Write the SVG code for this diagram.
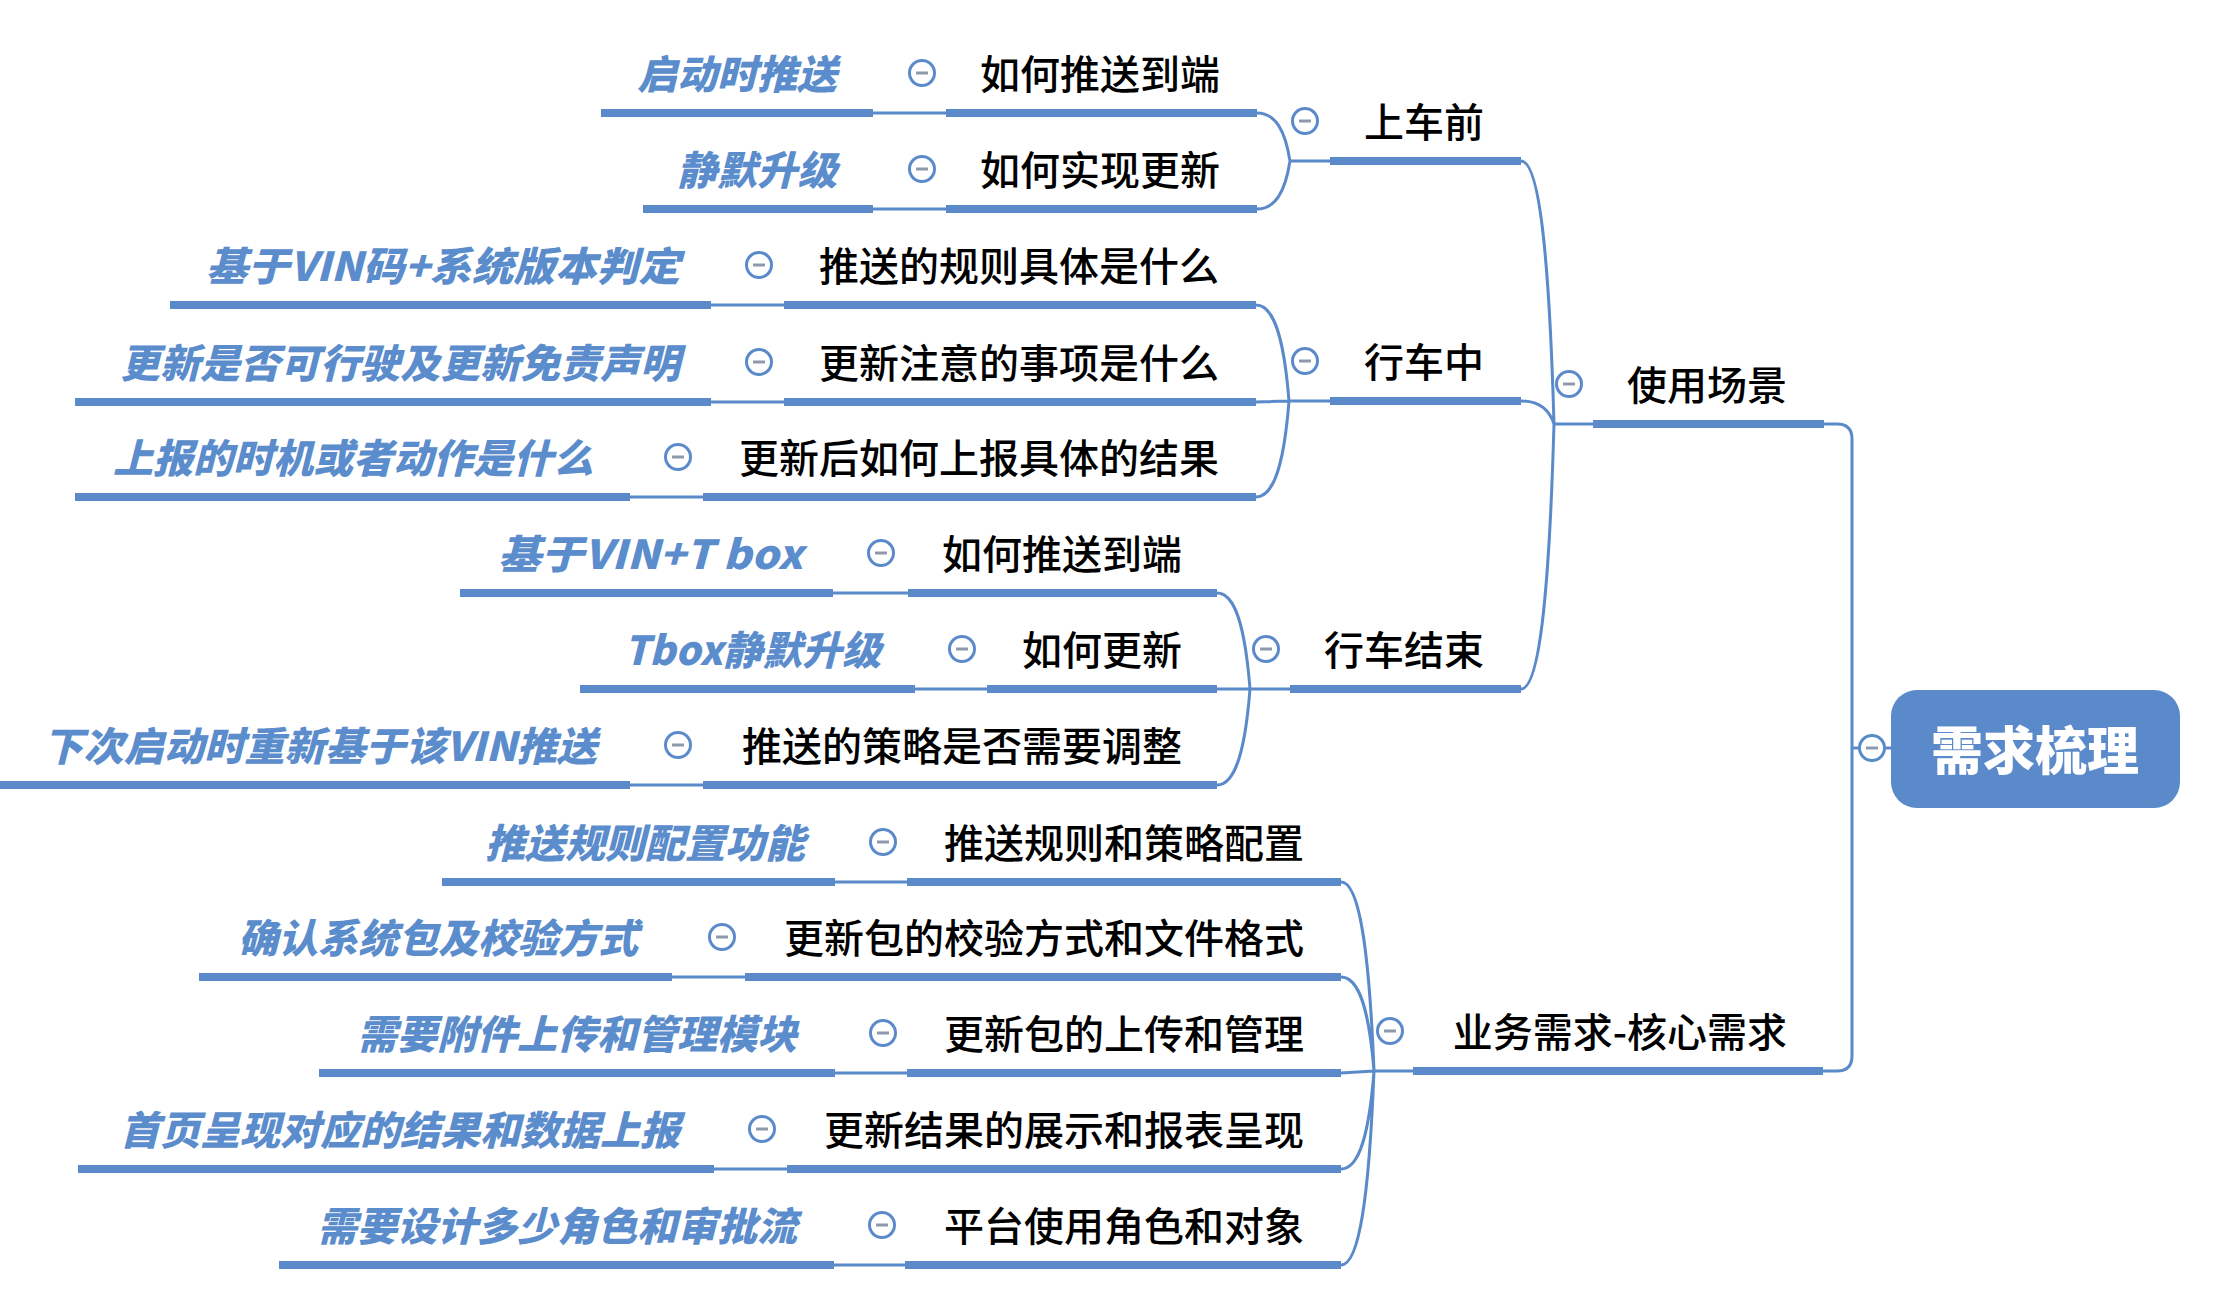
<svg xmlns="http://www.w3.org/2000/svg" xmlns:xlink="http://www.w3.org/1999/xlink" width="2231" height="1310" viewBox="0 0 2231 1310">
<style>
.ul{stroke:#5A8ACA;stroke-width:8;fill:none}
.ln{stroke:#5A8ACA;stroke-width:3;fill:none}
.bt{font-family:"Noto Sans CJK SC","Liberation Sans",sans-serif;font-size:40px;font-weight:500;fill:#000;text-anchor:end}
.it{font-family:"Noto Sans CJK SC","Liberation Sans",sans-serif;font-size:40px;font-weight:900;font-style:italic;fill:#5B8CCC;text-anchor:end}
.rt{font-family:"Noto Sans CJK SC","Liberation Sans",sans-serif;font-size:52px;font-weight:900;fill:#fff;text-anchor:middle}
.ic{fill:#fff;stroke:#5A8ACA;stroke-width:3}
.mi{stroke:#8E9AAB;stroke-width:3}
</style>
<defs>
<g id="col"><circle class="ic" cx="0" cy="0" r="12.5"/><line class="mi" x1="-6" y1="0" x2="6" y2="0"/></g>
</defs>
<rect width="2231" height="1310" fill="#fff"/>
<g id="connectors">
<path class="ln" d="M1824 424 H1837 Q1852 424 1852 439 V1056 Q1852 1071 1837 1071 H1823 M1852 748 H1891"/>
<path class="ln" d="M1521 161 C1539.2 161 1549.1 253.1 1554 424 M1521 401 C1539.2 401 1549.1 409 1554 424 M1521 689 C1539.2 689 1549.1 596.3 1554 424 M1554 424 H1593"/>
<path class="ln" d="M1257 113 C1275.2 113 1285.1 129.8 1290 161 M1257 209 C1275.2 209 1285.1 192.2 1290 161 M1290 161 H1330"/>
<path class="ln" d="M1256 305 C1274.2 305 1284.1 338.6 1289 401 M1256 402 L1289 401 M1256 497 C1274.2 497 1284.1 463.4 1289 401 M1289 401 H1330"/>
<path class="ln" d="M1217 593 C1235.2 593 1245.1 626.6 1250 689 M1217 689 L1250 689 M1217 785 C1235.2 785 1245.1 751.4 1250 689 M1250 689 H1290"/>
<path class="ln" d="M1341 882 C1359.2 882 1369.1 948.2 1374 1071 M1341 977 C1359.2 977 1369.1 1009.9 1374 1071 M1341 1073 L1374 1071 M1341 1169 C1359.2 1169 1369.1 1134.7 1374 1071 M1341 1265 C1359.2 1265 1369.1 1197.1 1374 1071 M1374 1071 H1413"/>
<path class="ln" d="M873 113 H946 M873 209 H946 M711 305 H784 M711 402 H784 M630 497 H703 M833 593 H908 M915 689 H987 M630 785 H703 M835 882 H907 M672 977 H745 M835 1073 H907 M714 1169 H787 M834 1265 H905"/>
</g>
<g id="root">
<rect x="1891" y="690" width="289" height="118" rx="26" fill="#5A8ACA"/>
<text class="rt" x="2035" y="770">需求梳理</text>
<use xlink:href="#col" x="1872" y="748"/>
</g>
<g id="n_scene"><text class="bt" x="1787" y="400">使用场景</text><line class="ul" x1="1593" y1="424" x2="1824" y2="424"/><use xlink:href="#col" x="1569" y="384"/></g>
<g id="n_biz"><text class="bt" x="1787" y="1047">业务需求-核心需求</text><line class="ul" x1="1413" y1="1071" x2="1823" y2="1071"/><use xlink:href="#col" x="1390" y="1031"/></g>
<g id="n_before"><text class="bt" x="1484" y="137">上车前</text><line class="ul" x1="1330" y1="161" x2="1521" y2="161"/><use xlink:href="#col" x="1305" y="121"/></g>
<g id="n_during"><text class="bt" x="1484" y="377">行车中</text><line class="ul" x1="1330" y1="401" x2="1521" y2="401"/><use xlink:href="#col" x="1305" y="361"/></g>
<g id="n_after"><text class="bt" x="1484" y="665">行车结束</text><line class="ul" x1="1290" y1="689" x2="1521" y2="689"/><use xlink:href="#col" x="1266" y="649"/></g>
<g id="b1"><text class="bt" x="1220" y="89">如何推送到端</text><line class="ul" x1="946" y1="113" x2="1257" y2="113"/><use xlink:href="#col" x="922" y="73"/></g>
<g id="b2"><text class="bt" x="1220" y="185">如何实现更新</text><line class="ul" x1="946" y1="209" x2="1257" y2="209"/><use xlink:href="#col" x="922" y="169"/></g>
<g id="d1"><text class="bt" x="1219" y="281">推送的规则具体是什么</text><line class="ul" x1="784" y1="305" x2="1256" y2="305"/><use xlink:href="#col" x="759" y="265"/></g>
<g id="d2"><text class="bt" x="1219" y="378">更新注意的事项是什么</text><line class="ul" x1="784" y1="402" x2="1256" y2="402"/><use xlink:href="#col" x="759" y="362"/></g>
<g id="d3"><text class="bt" x="1219" y="473">更新后如何上报具体的结果</text><line class="ul" x1="703" y1="497" x2="1256" y2="497"/><use xlink:href="#col" x="678" y="457"/></g>
<g id="a1"><text class="bt" x="1182" y="569">如何推送到端</text><line class="ul" x1="908" y1="593" x2="1217" y2="593"/><use xlink:href="#col" x="881" y="553"/></g>
<g id="a2"><text class="bt" x="1182" y="665">如何更新</text><line class="ul" x1="987" y1="689" x2="1217" y2="689"/><use xlink:href="#col" x="962" y="649"/></g>
<g id="a3"><text class="bt" x="1182" y="761">推送的策略是否需要调整</text><line class="ul" x1="703" y1="785" x2="1217" y2="785"/><use xlink:href="#col" x="678" y="745"/></g>
<g id="z1"><text class="bt" x="1304" y="858">推送规则和策略配置</text><line class="ul" x1="907" y1="882" x2="1341" y2="882"/><use xlink:href="#col" x="883" y="842"/></g>
<g id="z2"><text class="bt" x="1304" y="953">更新包的校验方式和文件格式</text><line class="ul" x1="745" y1="977" x2="1341" y2="977"/><use xlink:href="#col" x="722" y="937"/></g>
<g id="z3"><text class="bt" x="1304" y="1049">更新包的上传和管理</text><line class="ul" x1="907" y1="1073" x2="1341" y2="1073"/><use xlink:href="#col" x="883" y="1033"/></g>
<g id="z4"><text class="bt" x="1304" y="1145">更新结果的展示和报表呈现</text><line class="ul" x1="787" y1="1169" x2="1341" y2="1169"/><use xlink:href="#col" x="762" y="1129"/></g>
<g id="z5"><text class="bt" x="1304" y="1241">平台使用角色和对象</text><line class="ul" x1="905" y1="1265" x2="1341" y2="1265"/><use xlink:href="#col" x="882" y="1225"/></g>
<g id="l_b1"><text class="it" x="837" y="89">启动时推送</text><line class="ul" x1="601" y1="113" x2="873" y2="113"/></g>
<g id="l_b2"><text class="it" x="837" y="185">静默升级</text><line class="ul" x1="643" y1="209" x2="873" y2="209"/></g>
<g id="l_d1"><text class="it" x="680" y="281" textLength="474" lengthAdjust="spacingAndGlyphs">基于VIN码+系统版本判定</text><line class="ul" x1="170" y1="305" x2="711" y2="305"/></g>
<g id="l_d2"><text class="it" x="680" y="378">更新是否可行驶及更新免责声明</text><line class="ul" x1="75" y1="402" x2="711" y2="402"/></g>
<g id="l_d3"><text class="it" x="593" y="473">上报的时机或者动作是什么</text><line class="ul" x1="75" y1="497" x2="630" y2="497"/></g>
<g id="l_a1"><text class="it" x="803" y="569" textLength="305" lengthAdjust="spacingAndGlyphs">基于VIN+T box</text><line class="ul" x1="460" y1="593" x2="833" y2="593"/></g>
<g id="l_a2"><text class="it" x="881" y="665" textLength="257" lengthAdjust="spacingAndGlyphs">Tbox静默升级</text><line class="ul" x1="580" y1="689" x2="915" y2="689"/></g>
<g id="l_a3"><text class="it" x="597" y="761" textLength="554" lengthAdjust="spacingAndGlyphs">下次启动时重新基于该VIN推送</text><line class="ul" x1="0" y1="785" x2="630" y2="785"/></g>
<g id="l_z1"><text class="it" x="805" y="858">推送规则配置功能</text><line class="ul" x1="442" y1="882" x2="835" y2="882"/></g>
<g id="l_z2"><text class="it" x="638" y="953">确认系统包及校验方式</text><line class="ul" x1="199" y1="977" x2="672" y2="977"/></g>
<g id="l_z3"><text class="it" x="797" y="1049">需要附件上传和管理模块</text><line class="ul" x1="319" y1="1073" x2="835" y2="1073"/></g>
<g id="l_z4"><text class="it" x="680" y="1145">首页呈现对应的结果和数据上报</text><line class="ul" x1="78" y1="1169" x2="714" y2="1169"/></g>
<g id="l_z5"><text class="it" x="797" y="1241">需要设计多少角色和审批流</text><line class="ul" x1="279" y1="1265" x2="834" y2="1265"/></g>
</svg>
